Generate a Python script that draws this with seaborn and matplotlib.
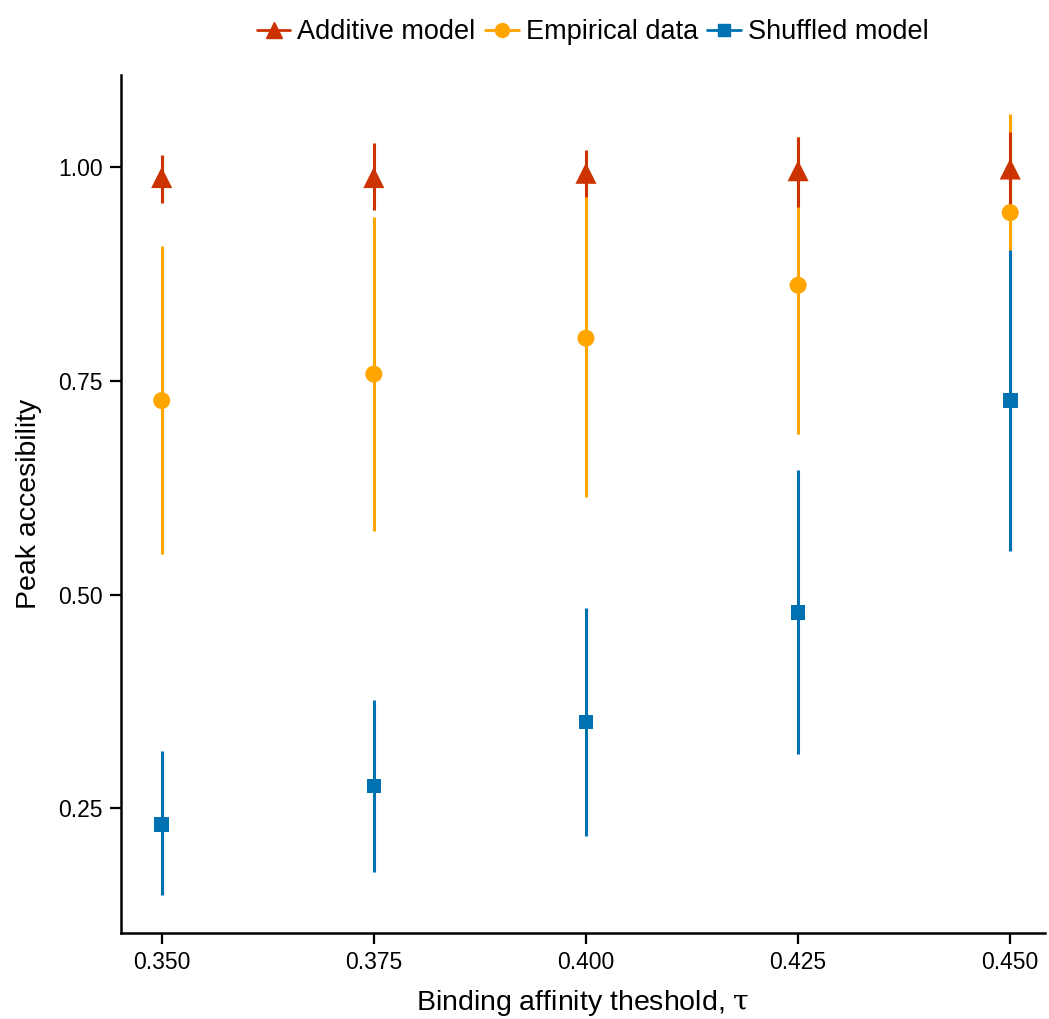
import pandas as pd
import numpy as np
import matplotlib
matplotlib.use("Agg")
import matplotlib.pyplot as plt
from matplotlib.lines import Line2D
import seaborn as sns

# ---- data ----
tau = [0.350, 0.375, 0.400, 0.425, 0.450]

additive_mean = [0.988, 0.988, 0.993, 0.996, 0.998]
additive_lo = [0.958, 0.950, 0.965, 0.954, 0.956]
additive_hi = [1.014, 1.028, 1.020, 1.036, 1.041]

empirical_mean = [0.727, 0.758, 0.800, 0.862, 0.947]
empirical_lo = [0.547, 0.574, 0.614, 0.688, 0.903]
empirical_hi = [0.908, 0.942, 0.995, 1.036, 1.062]

shuffled_mean = [0.231, 0.276, 0.351, 0.479, 0.727]
shuffled_lo = [0.148, 0.175, 0.218, 0.313, 0.551]
shuffled_hi = [0.317, 0.377, 0.484, 0.646, 0.905]

series_names = ["Additive model", "Empirical data", "Shuffled model"]
colors = {"Additive model": "#CC3300", "Empirical data": "#FFA500", "Shuffled model": "#0072B2"}
markers = {"Additive model": "^", "Empirical data": "o", "Shuffled model": "s"}
msizes = {"Additive model": 230, "Empirical data": 150, "Shuffled model": 110}

df = pd.concat([
    pd.DataFrame({"tau": tau, "mean": additive_mean, "lo": additive_lo, "hi": additive_hi, "series": "Additive model"}),
    pd.DataFrame({"tau": tau, "mean": empirical_mean, "lo": empirical_lo, "hi": empirical_hi, "series": "Empirical data"}),
    pd.DataFrame({"tau": tau, "mean": shuffled_mean, "lo": shuffled_lo, "hi": shuffled_hi, "series": "Shuffled model"}),
], ignore_index=True)

sns.set_style("ticks")
plt.rcParams["font.family"] = ["Liberation Sans", "DejaVu Sans"]
plt.rcParams["mathtext.fontset"] = "custom"
plt.rcParams["mathtext.rm"] = "DejaVu Serif"
plt.rcParams["text.color"] = "black"
plt.rcParams["axes.labelcolor"] = "black"

fig = plt.figure(figsize=(10.49, 10.19), dpi=100)
ax = fig.add_axes([0.1153, 0.0844, 0.8809, 0.842])

# draw shuffled first, additive last (on top)
for name in reversed(series_names):
    sub = df[df["series"] == name]
    ax.vlines(sub["tau"], sub["lo"], sub["hi"], color=colors[name], lw=2.2, zorder=2)
    sns.scatterplot(data=sub, x="tau", y="mean", marker=markers[name], color=colors[name],
                    s=msizes[name], edgecolor="none", ax=ax, zorder=3, legend=False)

ax.set_xlim(0.3452, 0.4541)
ax.set_ylim(0.104, 1.108)
ax.set_xticks(tau)
ax.set_xticklabels([f"{t:.3f}" for t in tau])
ax.set_yticks([0.25, 0.50, 0.75, 1.00])
ax.set_yticklabels(["0.25", "0.50", "0.75", "1.00"])
ax.tick_params(axis="both", labelsize=16.5, length=8, width=1.6, colors="black", pad=5)
for s in ["left", "bottom"]:
    ax.spines[s].set_linewidth(1.8)
    ax.spines[s].set_color("black")
sns.despine(ax=ax)

ax.set_ylabel("Peak accesibility", fontsize=20.5, labelpad=12)
ax.set_xlabel(r"Binding affinity theshold, $\mathrm{\tau}$", fontsize=20.5, labelpad=10)

handles = [Line2D([0], [0], color=colors[n], marker=markers[n], lw=2,
                  markersize={"Additive model": 12, "Empirical data": 10, "Shuffled model": 9}[n])
           for n in series_names]
fig.legend(handles, series_names, loc="upper center", bbox_to_anchor=(0.565, 1.005), ncol=3,
           frameon=False, fontsize=19.5, handlelength=1.25, handletextpad=0.25, columnspacing=0.35)

fig.savefig("out.png", dpi=100)
